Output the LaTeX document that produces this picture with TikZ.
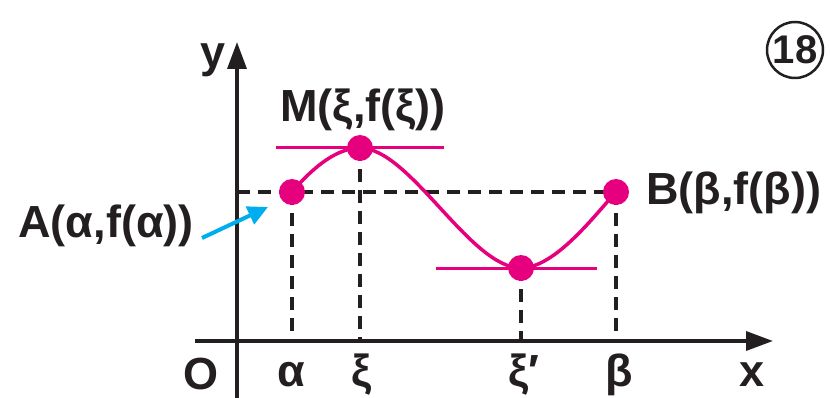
\documentclass[tikz,border=0pt]{standalone}
\usepackage{fontspec}
\setmainfont{Liberation Sans}
\usetikzlibrary{arrows.meta}
\definecolor{pinkc}{RGB}{230,0,126}
\definecolor{bluec}{RGB}{0,174,239}
\definecolor{inkc}{RGB}{35,31,32}
\tikzset{
  dot/.style={circle,fill=pinkc,inner sep=0pt,minimum size=26pt},
  lbl/.style={inner sep=0pt,text=inkc,font=\fontsize{45}{50}\selectfont\bfseries},
  axis/.style={draw=inkc,line width=3.5pt,-{Triangle[length=27pt,width=19pt]}},
  dashline/.style={draw=inkc,line width=3.2pt,dash pattern=on 13pt off 8pt},
  curve/.style={draw=pinkc,line width=3.5pt},
  tangent/.style={draw=pinkc,line width=3pt}
}
\begin{document}
\begin{tikzpicture}[x=1pt,y=-1pt]
\useasboundingbox (0,0) rectangle (830,398);
% axes
\coordinate (ybot) at (237,398);
\coordinate (ytop) at (237,42);
\coordinate (xl) at (195,341);
\coordinate (xr) at (773,341);
\draw[axis] (ybot) -- (ytop);
\draw[axis] (xl) -- (xr);
% axis feet
\coordinate (fa) at (292,341);
\coordinate (fm) at (360,341);
\coordinate (fn) at (521,341);
\coordinate (fb) at (616,341);
\coordinate (yh) at (237,192);
% points
\coordinate (pA) at (292,192);
\coordinate (pM) at (360,148);
\coordinate (pN) at (521,268);
\coordinate (pB) at (616,192);
% dashed
\draw[dashline] (yh) -- (pB);
\draw[dashline] (pA) -- (fa);
\draw[dashline] (pM) -- (fm);
\draw[dashline] (pN) -- (fn);
\draw[dashline] (pB) -- (fb);
% tangents
\coordinate (tm1) at (276,148);
\coordinate (tm2) at (444,148);
\coordinate (tn1) at (436,268);
\coordinate (tn2) at (597,268);
\draw[tangent] (tm1) -- (tm2);
\draw[tangent] (tn1) -- (tn2);
% curve
\draw[curve] (pA) .. controls (315,165) and (338,148) .. (pM)
  .. controls (410,148) and (470,268) .. (pN)
  .. controls (555,268) and (595,215) .. (pB);
% dots
\node[dot] (A) at (pA) {};
\node[dot] (M) at (pM) {};
\node[dot] (N) at (pN) {};
\node[dot] (B) at (pB) {};
% labels
\node[lbl] (ylab) at (213,60) {y};
\node[lbl] (Olab) at (201,374) {O};
\node[lbl] (al) at (291,375) {α};
\node[lbl] (xil) at (362,375) {ξ};
\node[lbl] (xipl) at (524,375) {ξ′};
\node[lbl] (bel) at (619,375) {β};
\node[lbl] (xlab) at (752,375) {x};
\node[lbl] (Mlab) at (363,110) {M(ξ,f(ξ))};
\node[lbl] (Alab) at (106,226) {A(α,f(α))};
\node[lbl,anchor=west] (Blab) at (646,193) {B(β,f(β))};
% arrow
\coordinate (atip) at (268,207);
\coordinate (atail) at (202,238);
\draw[bluec,line width=4pt,-{Triangle[length=20pt,width=19pt]}] (atail) -- (atip);
% circled number
\node[circle,draw=inkc,line width=2.5pt,minimum size=56pt,inner sep=0pt,text=inkc,font=\fontsize{40}{44}\selectfont\bfseries] (num) at (795,50) {18};
\end{tikzpicture}
\end{document}
